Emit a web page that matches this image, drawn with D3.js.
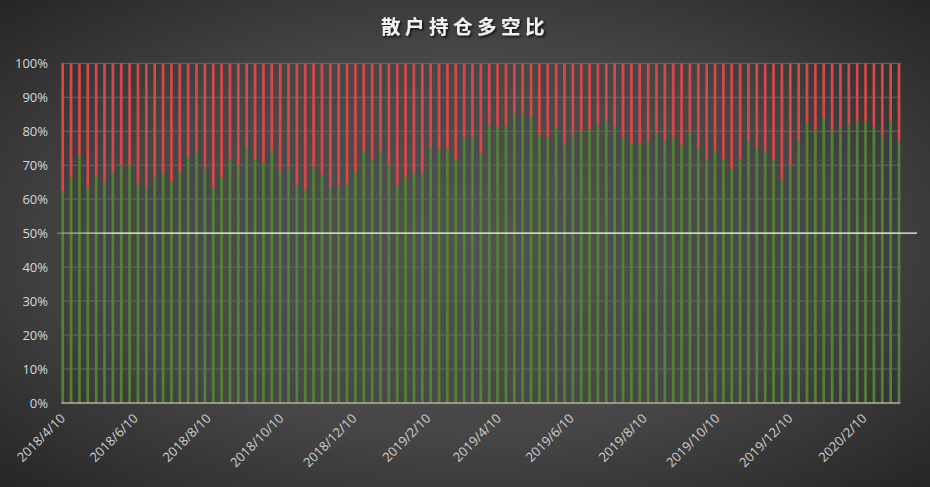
<!DOCTYPE html>
<html><head><meta charset="utf-8">
<script src="https://cdn.jsdelivr.net/npm/d3@7"></script>
<style>html,body{margin:0;padding:0;background:#333;}svg{display:block;}</style>
</head><body>
<script>
const title = "散户持仓多空比";
const dates = [
"2018/4/10","2018/4/17","2018/4/24","2018/5/1","2018/5/8","2018/5/15","2018/5/22","2018/5/29","2018/6/5","2018/6/12","2018/6/19","2018/6/26","2018/7/3","2018/7/10","2018/7/17","2018/7/24","2018/7/31","2018/8/7","2018/8/14","2018/8/21","2018/8/28","2018/9/4","2018/9/11","2018/9/18","2018/9/25","2018/10/2","2018/10/9","2018/10/16","2018/10/23","2018/10/30","2018/11/6","2018/11/13","2018/11/20","2018/11/27","2018/12/4","2018/12/11","2018/12/18","2018/12/25",
"2019/1/1","2019/1/8","2019/1/15","2019/1/22","2019/1/29","2019/2/5","2019/2/12","2019/2/19","2019/2/26","2019/3/5","2019/3/12","2019/3/19","2019/3/26","2019/4/2","2019/4/9","2019/4/16","2019/4/23","2019/4/30","2019/5/7","2019/5/14","2019/5/21","2019/5/28","2019/6/4","2019/6/11","2019/6/18","2019/6/25","2019/7/2","2019/7/9","2019/7/16","2019/7/23","2019/7/30","2019/8/6","2019/8/13","2019/8/20","2019/8/27","2019/9/3","2019/9/10","2019/9/17","2019/9/24","2019/10/1","2019/10/8","2019/10/15","2019/10/22","2019/10/29","2019/11/5","2019/11/12","2019/11/19","2019/11/26","2019/12/3","2019/12/10","2019/12/17","2019/12/24","2019/12/31",
"2020/1/7","2020/1/14","2020/1/21","2020/1/28","2020/2/4","2020/2/11","2020/2/18","2020/2/25","2020/3/3","2020/3/10"];
const longPct = [
62.3,66.4,72.8,63.6,67.0,65.2,67.5,70.1,69.9,64.8,63.4,66.6,67.5,65.2,68.3,72.3,74.2,69.5,63.4,66.4,71.9,69.9,75.4,71.7,70.7,
74.0,68.1,69.5,64.2,62.8,69.5,67.2,63.4,64.0,64.6,68.3,74.0,71.7,74.0,69.9,64.2,66.4,67.5,67.5,75.2,74.8,74.8,71.7,78.3,78.3,
73.4,81.7,81.3,81.7,85.2,85.0,84.0,78.7,78.1,81.1,76.4,78.9,80.1,80.5,81.9,83.0,81.1,78.3,76.6,76.6,77.0,79.5,77.0,78.1,75.8,
80.1,75.2,71.9,74.0,71.9,68.9,71.9,77.0,75.4,74.0,71.7,66.0,69.9,77.2,82.3,80.5,84.2,80.7,81.3,81.7,82.8,82.8,81.3,78.7,82.8,77.0];
const shortPct = longPct.map(v => 100 - v);
const xTickLabels = ["2018/4/10","2018/6/10","2018/8/10","2018/10/10","2018/12/10","2019/2/10","2019/4/10","2019/6/10","2019/8/10","2019/10/10","2019/12/10","2020/2/10"];
const yTicks = [0,10,20,30,40,50,60,70,80,90,100];
const refLine = 50;

const W = 930, H = 487;
const parse = d3.timeParse("%Y/%-m/%-d");
const data = dates.map((d,i) => ({date: parse(d), long: longPct[i], short: shortPct[i]}));

const svg = d3.select("body").append("svg").attr("width", W).attr("height", H);
const defs = svg.append("defs");
const rg = defs.append("radialGradient").attr("id","bg").attr("cx","50%").attr("cy","50%").attr("r","72%");
rg.append("stop").attr("offset","0%").attr("stop-color","#525252");
rg.append("stop").attr("offset","55%").attr("stop-color","#464646");
rg.append("stop").attr("offset","100%").attr("stop-color","#242424");
const lg = defs.append("linearGradient").attr("id","ref").attr("gradientUnits","userSpaceOnUse")
  .attr("x1",57).attr("x2",917).attr("y1",0).attr("y2",0);
lg.append("stop").attr("offset","0").attr("stop-color","#ffffff").attr("stop-opacity",0.3);
lg.append("stop").attr("offset","0.07").attr("stop-color","#ffffff").attr("stop-opacity",0.95);
lg.append("stop").attr("offset","1").attr("stop-color","#ffffff").attr("stop-opacity",0.95);
const f = defs.append("filter").attr("id","sh").attr("x","-10%").attr("y","-30%").attr("width","120%").attr("height","160%");
f.append("feDropShadow").attr("dx",1.5).attr("dy",1.5).attr("stdDeviation",1.2).attr("flood-color","#000").attr("flood-opacity",0.8);

svg.append("rect").attr("width",W).attr("height",H).attr("fill","url(#bg)");

const x = d3.scaleTime().domain(d3.extent(data, d => d.date)).range([62.7, 899]);
const y = d3.scaleLinear().domain([0,100]).range([403, 63.3]);
const bw = 2.7;

// gridlines
svg.append("g").selectAll("line").data(yTicks.filter(t => t>0)).join("line")
  .attr("x1", 61).attr("x2", 901)
  .attr("y1", d => y(d)).attr("y2", d => y(d))
  .attr("stroke", "#666").attr("stroke-width", 1);

// y labels
svg.append("g").selectAll("text").data(yTicks).join("text")
  .attr("x", 48).attr("y", d => y(d)).attr("dy","0.35em")
  .attr("text-anchor","end").attr("fill","#d9d9d9")
  .attr("font-family","'Open Sans', 'Noto Sans', sans-serif").attr("font-size", 13)
  .text(d => d + "%");

// bars
const bars = svg.append("g");
bars.selectAll("rect.long").data(data).join("rect").attr("class","long")
  .attr("x", d => x(d.date) - bw/2).attr("width", bw)
  .attr("y", d => y(d.long)).attr("height", d => y(0) - y(d.long))
  .attr("fill", "#548235");
bars.selectAll("rect.short").data(data).join("rect").attr("class","short")
  .attr("x", d => x(d.date) - bw/2).attr("width", bw)
  .attr("y", d => y(d.long + d.short)).attr("height", d => y(d.long) - y(d.long + d.short))
  .attr("fill", "#d94848");

// axis line
svg.append("line").attr("x1", 61.3).attr("x2", 900.4).attr("y1", y(0)).attr("y2", y(0))
  .attr("stroke","#b0b0b0").attr("stroke-width",1.5);

// 50% reference line
svg.append("line").attr("x1", 57).attr("x2", 917).attr("y1", y(refLine)).attr("y2", y(refLine))
  .attr("stroke","url(#ref)").attr("stroke-width",1.3);

// x labels
svg.append("g").selectAll("text").data(xTickLabels).join("text")
  .attr("transform", d => `translate(${x(parse(d))},416) rotate(-45)`)
  .attr("text-anchor","end").attr("dy","0.35em").attr("fill","#d0d0d0")
  .attr("font-family","'Open Sans', 'Noto Sans', sans-serif").attr("font-size", 13)
  .text(d => d);

// title
svg.append("text").attr("x", 465).attr("y", 34).attr("text-anchor","middle")
  .attr("fill","#f2f2f2").attr("font-family","'Noto Sans CJK SC', sans-serif")
  .attr("font-weight","bold").attr("font-size", 19.5).attr("letter-spacing", 4.5)
  .attr("filter","url(#sh)")
  .text(title);
</script>
</body></html>
